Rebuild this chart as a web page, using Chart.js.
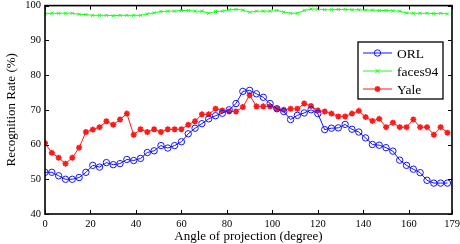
<!DOCTYPE html>
<html>
<head>
<meta charset="utf-8">
<script src="https://cdn.jsdelivr.net/npm/chart.js@4.4.0/dist/chart.umd.min.js"></script>
<style>
  body { margin: 0; background: #fff; }
  canvas { display: block; }
</style>
</head>
<body>
<canvas id="myChart" width="460" height="244"></canvas>
<script>
// angle of projection (degree), one sample every 3 degrees
const angles = [0, 3, 6, 9, 12, 15, 18, 21, 24, 27, 30, 33, 36, 39, 42, 45, 48, 51, 54, 57,
  60, 63, 66, 69, 72, 75, 78, 81, 84, 87, 90, 93, 96, 99, 102, 105, 108, 111, 114, 117,
  120, 123, 126, 129, 132, 135, 138, 141, 144, 147, 150, 153, 156, 159, 162, 165, 168, 171, 174, 177]

const orl = [52.0, 52.0, 51.0, 50.0, 50.0, 50.5, 52.0, 54.0, 53.5, 54.8, 54.2, 54.5, 55.7, 55.4, 56.0,
  57.7, 58.2, 59.7, 59.0, 59.7, 60.8, 63.1, 64.7, 66.0, 67.4, 68.3, 69.0, 70.0, 71.8, 75.3,
  75.6, 74.6, 73.6, 71.8, 70.3, 69.5, 67.2, 68.4, 69.1, 70.0, 68.9, 64.3, 64.7, 64.8, 65.8,
  64.4, 63.6, 61.9, 60.0, 59.8, 59.1, 58.1, 55.5, 54.0, 52.9, 51.9, 49.7, 48.9, 48.9, 48.9]

const faces94 = [97.6, 97.8, 97.8, 97.8, 97.8, 97.5, 97.4, 97.2, 97.2, 97.2, 97.1, 97.2, 97.2, 97.2, 97.2,
  97.6, 97.9, 98.3, 98.4, 98.4, 98.6, 98.6, 98.4, 98.4, 97.8, 98.3, 98.4, 98.8, 98.9, 98.7,
  98.1, 98.4, 98.4, 98.4, 98.6, 98.1, 97.8, 97.8, 98.6, 99.0, 99.0, 98.8, 98.8, 98.9, 98.9,
  98.8, 98.8, 98.7, 98.7, 98.6, 98.6, 98.5, 98.4, 97.9, 97.8, 97.8, 97.8, 97.7, 97.8, 97.6]

const yale = [60.4, 57.6, 56.2, 54.5, 56.2, 59.1, 63.6, 64.3, 65.0, 66.7, 65.7, 67.2, 68.9, 62.8, 64.4,
  63.6, 64.4, 63.6, 64.4, 64.4, 64.4, 65.7, 66.7, 68.7, 68.7, 70.3, 69.8, 69.5, 69.5, 70.8,
  74.2, 71.0, 71.0, 71.0, 70.3, 70.0, 70.3, 70.3, 71.8, 71.1, 69.8, 69.5, 68.9, 68.1, 68.1,
  68.9, 69.7, 67.9, 66.8, 67.4, 65.0, 66.3, 65.0, 65.0, 67.2, 65.0, 65.0, 62.8, 65.0, 63.4]

const xTicks = [0, 20, 40, 60, 80, 100, 120, 140, 160, 179]
const yTicks = [40, 50, 60, 70, 80, 90, 100]

const serif = "'Liberation Serif', 'Times New Roman', serif"

const toPoints = (ys) => angles.map((a, i) => ({x: a, y: ys[i]}))

// box round the plot with MATLAB style ticks pointing inwards
const frame = {
  id: 'frame',
  afterDraw(chart) {
    const {ctx, chartArea: a, scales} = chart
    ctx.save()
    ctx.strokeStyle = '#000'
    ctx.lineWidth = 1
    const len = 4
    xTicks.forEach(v => {
      const px = Math.round(scales.x.getPixelForValue(v)) + 0.5
      ctx.beginPath()
      ctx.moveTo(px, a.bottom); ctx.lineTo(px, a.bottom - len)
      ctx.moveTo(px, a.top); ctx.lineTo(px, a.top + len)
      ctx.stroke()
    })
    yTicks.forEach(v => {
      const py = Math.round(scales.y.getPixelForValue(v)) + 0.5
      ctx.beginPath()
      ctx.moveTo(a.left, py); ctx.lineTo(a.left + len, py)
      ctx.moveTo(a.right, py); ctx.lineTo(a.right - len, py)
      ctx.stroke()
    })
    ctx.lineWidth = 1.6
    ctx.strokeRect(a.left, a.top, a.right - a.left, a.bottom - a.top)
    ctx.restore()
  }
}

const drawMarker = (ctx, style, x, y, r) => {
  ctx.beginPath()
  if (style === 'circle') {
    ctx.arc(x, y, r, 0, Math.PI * 2)
  } else if (style === 'crossRot') {
    ctx.moveTo(x - r, y - r); ctx.lineTo(x + r, y + r)
    ctx.moveTo(x - r, y + r); ctx.lineTo(x + r, y - r)
  } else {
    for (let k = 0; k < 4; k++) {
      const t = k * Math.PI / 4
      ctx.moveTo(x - r * Math.cos(t), y - r * Math.sin(t))
      ctx.lineTo(x + r * Math.cos(t), y + r * Math.sin(t))
    }
  }
  ctx.stroke()
}

// legend in a framed box inside the plot, upper right
const boxLegend = {
  id: 'boxLegend',
  afterDraw(chart) {
    const ctx = chart.ctx
    const x0 = 358, y0 = 42, w = 85, h = 57
    ctx.save()
    ctx.fillStyle = '#fff'
    ctx.fillRect(x0, y0, w, h)
    ctx.strokeStyle = '#000'
    ctx.lineWidth = 1.3
    ctx.strokeRect(x0, y0, w, h)
    ctx.font = '13.5px ' + serif
    ctx.textBaseline = 'middle'
    chart.data.datasets.forEach((ds, i) => {
      const y = y0 + 11 + i * 18
      ctx.strokeStyle = ds.borderColor
      ctx.lineWidth = 1
      ctx.beginPath()
      ctx.moveTo(x0 + 5, y); ctx.lineTo(x0 + 34, y)
      ctx.stroke()
      ctx.lineWidth = ds.pointBorderWidth
      drawMarker(ctx, ds.pointStyle, x0 + 19.5, y, ds.pointRadius)
      ctx.fillStyle = '#000'
      ctx.fillText(ds.label, x0 + 39, y + 1)
    })
    ctx.restore()
  }
}

const create_chart = () => {
  let chart = document.getElementById("myChart")
  new Chart(chart, {
    type: "line",
    data: {
      datasets: [{
        label: "ORL",
        data: toPoints(orl),
        borderColor: "rgb(20,20,255)",
        backgroundColor: "rgba(0,0,0,0)",
        borderWidth: 1,
        pointStyle: "circle",
        pointRadius: 3.2,
        pointBorderWidth: 1,
        pointBackgroundColor: "rgba(0,0,0,0)",
        fill: false,
        tension: 0
      }, {
        label: "faces94",
        data: toPoints(faces94),
        borderColor: "rgb(30,250,30)",
        backgroundColor: "rgb(30,250,30)",
        borderWidth: 1,
        pointStyle: "crossRot",
        pointRadius: 2.2,
        pointBorderWidth: 1,
        fill: false,
        tension: 0
      }, {
        label: "Yale",
        data: toPoints(yale),
        borderColor: "rgb(255,25,25)",
        backgroundColor: "rgb(255,25,25)",
        borderWidth: 1,
        pointStyle: "star",
        pointRadius: 3,
        pointBorderWidth: 1.6,
        fill: false,
        tension: 0
      }]
    },
    options: {
      responsive: false,
      animation: false,
      events: [],
      layout: {padding: {top: 5, right: 8, left: 0, bottom: 0}},
      plugins: {legend: {display: false}, tooltip: {enabled: false}},
      scales: {
        x: {
          type: "linear",
          min: 0,
          max: 179,
          afterBuildTicks: (s) => { s.ticks = xTicks.map(v => ({value: v})) },
          afterFit: (s) => { s.height = 30; s.paddingRight = 0; s.paddingLeft = 0 },
          grid: {display: false, drawTicks: false},
          border: {display: false},
          ticks: {color: "#000", font: {family: serif, size: 10.5}, padding: 4, maxRotation: 0, autoSkip: false},
          title: {display: true, text: "Angle of projection (degree)", color: "#000",
                  font: {family: serif, size: 13}, padding: {top: 0, bottom: 0}}
        },
        y: {
          min: 40,
          max: 100,
          afterBuildTicks: (s) => { s.ticks = yTicks.map(v => ({value: v})) },
          afterFit: (s) => { s.width = 45; s.paddingTop = 0; s.paddingBottom = 0 },
          grid: {display: false, drawTicks: false},
          border: {display: false},
          ticks: {color: "#000", font: {family: serif, size: 10.5}, padding: 4},
          title: {display: true, text: "Recognition Rate (%)", color: "#000",
                  font: {family: serif, size: 13}, padding: {top: 4, bottom: 0}}
        }
      }
    },
    plugins: [frame, boxLegend]
  })
}

create_chart()
</script>
</body>
</html>
